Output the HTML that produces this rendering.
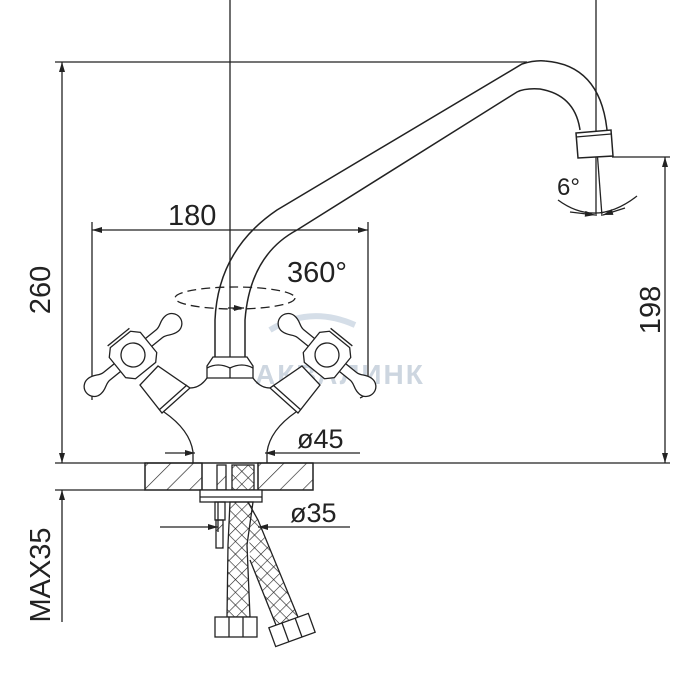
<!DOCTYPE html>
<html><head><meta charset="utf-8"><style>html,body{margin:0;padding:0;background:#fff}svg{display:block}</style></head>
<body>
<svg width="700" height="700" viewBox="0 0 700 700" xmlns="http://www.w3.org/2000/svg">
<defs>
<marker id="a" viewBox="0 0 10 6" refX="10" refY="3" markerWidth="12" markerHeight="6" markerUnits="userSpaceOnUse" orient="auto-start-reverse"><path d="M0,0 L10,3 L0,6 z" fill="#222"/></marker>
<pattern id="h" width="16" height="16" patternUnits="userSpaceOnUse" patternTransform="rotate(45)"><line x1="0" y1="0" x2="0" y2="16" stroke="#222" stroke-width="1.3"/></pattern>
<pattern id="x" width="9" height="9" patternUnits="userSpaceOnUse" patternTransform="rotate(45)"><path d="M0,0 H9 M0,0 V9" stroke="#222" stroke-width="1.2" fill="none"/></pattern>
<g id="handle">
<path d="M-34,-5 L34,-5 C40,-5 42,-10 50,-10 A10,10 0 0 1 50,10 C42,10 40,5 34,5 L-34,5 C-40,5 -42,10 -50,10 A10,10 0 0 1 -50,-10 C-42,-10 -40,-5 -34,-5 Z" fill="#fff"/>
<path d="M-13,-20 H13 L20,-13 V13 L13,20 H-13 L-20,13 V-13 Z" fill="#fff"/>
<line x1="-14" y1="-23" x2="14" y2="-23"/>
<circle cx="0" cy="0" r="12" fill="#fff"/>
</g>
</defs>
<text x="255" y="384" font-family="Liberation Sans, DejaVu Sans, sans-serif" font-size="28" font-weight="bold" fill="#cdd6e0" letter-spacing="2">АКВАЛИНК</text>
<path d="M270,330 Q310,305 355,325" stroke="#d5dee8" stroke-width="6" fill="none"/>
<g stroke="#222" stroke-width="1.3" fill="none">
<line x1="230" y1="0" x2="230" y2="357"/>
<line x1="596" y1="0" x2="596" y2="216"/>
<line x1="597" y1="150" x2="602" y2="216"/>
<line x1="55" y1="62" x2="527" y2="62"/>
<line x1="62" y1="62" x2="62" y2="463" marker-start="url(#a)" marker-end="url(#a)"/>
<line x1="55" y1="463" x2="670" y2="463"/>
<line x1="55" y1="490" x2="145" y2="490"/>
<line x1="62" y1="490" x2="62" y2="622" marker-start="url(#a)"/>
<line x1="92" y1="230" x2="368" y2="230" marker-start="url(#a)" marker-end="url(#a)"/>
<line x1="92" y1="222" x2="92" y2="400"/>
<path d="M368,222 V385 Q368,395 360,398"/>
<line x1="612" y1="157" x2="670" y2="157"/>
<line x1="665" y1="157" x2="665" y2="463" marker-start="url(#a)" marker-end="url(#a)"/>
<path d="M558,200 Q596,228 637,196"/>
<line x1="570" y1="212" x2="595" y2="215" marker-end="url(#a)"/>
<line x1="625" y1="208" x2="603" y2="215" marker-end="url(#a)"/>
<line x1="165" y1="453" x2="195" y2="453" marker-end="url(#a)"/>
<line x1="360" y1="453" x2="265" y2="453" marker-end="url(#a)"/>
<line x1="160" y1="527" x2="218" y2="527" marker-end="url(#a)"/>
<line x1="350" y1="527" x2="258" y2="527" marker-end="url(#a)"/>
<line x1="218" y1="490" x2="218" y2="532"/>
<ellipse cx="235" cy="298" rx="60" ry="11" stroke-dasharray="9,5"/>
<line x1="228" y1="308" x2="244" y2="308" marker-end="url(#a)"/>
<path d="M215,357 V320 Q218,250 277,210 L522,64 Q535,60 545,61 Q600,65 607,130" stroke-width="1.5"/>
<path d="M245,357 V320 Q250,255 297,230 L517,92 Q525,88 540,89 Q575,95 580,130" stroke-width="1.5"/>
<path d="M576,133 L611,130 L613,156 L578,158 Z" fill="#fff" stroke-width="1.5"/>
<line x1="576" y1="137" x2="611" y2="134"/>
<path d="M213,357 H247 L253,366 V378 H207 V366 Z" fill="#fff"/>
<path d="M207,368 Q218,362 230,368 Q242,362 253,368"/>
<line x1="230" y1="368" x2="230" y2="378"/>
<path d="M190,388 Q200,388 207,378 M253,378 Q260,388 270,388"/>
<path d="M164,412 Q190,430 193,452 V463"/>
<path d="M296,412 Q270,430 267,452 V463"/>
<path d="M140,385 L158,366 L190,388 L162,413 Z" fill="#fff"/>
<line x1="159" y1="410" x2="187" y2="385"/>
<path d="M320,385 L302,366 L270,388 L298,413 Z" fill="#fff"/>
<line x1="301" y1="410" x2="273" y2="385"/>
<use href="#handle" transform="translate(133,355) rotate(-39)"/>
<use href="#handle" transform="translate(327,355) scale(-1,1) rotate(-39)"/>
<rect x="145" y="463" width="57" height="27" fill="url(#h)"/>
<rect x="258" y="463" width="55" height="27" fill="url(#h)"/>
<rect x="145" y="463" width="168" height="27"/>
<line x1="202" y1="463" x2="202" y2="490"/><line x1="258" y1="463" x2="258" y2="490"/>
<rect x="217" y="465" width="9" height="25" fill="url(#h)"/>
<rect x="232" y="465" width="22" height="25" fill="url(#x)"/>
<rect x="200" y="490" width="62" height="12" fill="#fff"/>
<line x1="200" y1="497" x2="262" y2="497"/>
<rect x="215" y="502" width="10" height="18"/>
<rect x="216" y="520" width="7" height="28" fill="url(#h)"/>
<path d="M230,502 H253 L247,545 L250,617 H227 L228,545 Z" fill="url(#x)"/>
<path d="M248,502 L258,520 L300,622 L278,630 L250,560" fill="url(#x)"/>
<rect x="215" y="617" width="42" height="20" fill="#fff"/>
<line x1="229" y1="617" x2="229" y2="637"/><line x1="243" y1="617" x2="243" y2="637"/>
<g transform="rotate(-20 292 630)"><rect x="271" y="620" width="42" height="20" fill="#fff"/><line x1="285" y1="620" x2="285" y2="640"/><line x1="299" y1="620" x2="299" y2="640"/></g>
</g>
<g font-family="Liberation Sans, Arial, sans-serif" fill="#222">
<text x="168" y="225" font-size="29">180</text>
<text x="287" y="282" font-size="29">360°</text>
<text x="557" y="195" font-size="24">6°</text>
<text x="297" y="448" font-size="27">ø45</text>
<text x="290" y="522" font-size="27">ø35</text>
<text transform="translate(50,290) rotate(-90)" font-size="29" text-anchor="middle">260</text>
<text transform="translate(660,310) rotate(-90)" font-size="29" text-anchor="middle">198</text>
<text transform="translate(50,575) rotate(-90)" font-size="29" text-anchor="middle">MAX35</text>
</g>
</svg>
</body></html>
